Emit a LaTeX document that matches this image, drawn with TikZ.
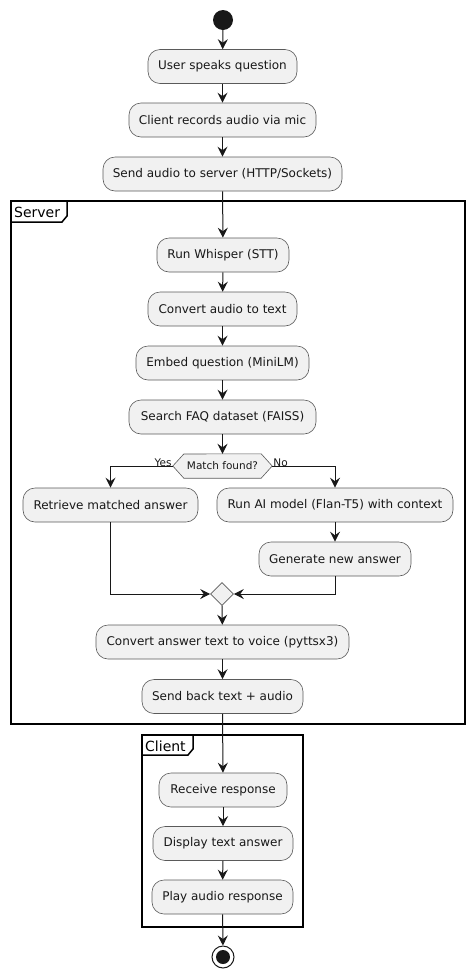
\documentclass[tikz,border=0pt]{standalone}
\usepackage{fontspec}
\setmainfont{DejaVu Sans}
\usetikzlibrary{arrows.meta,shapes.geometric}
\definecolor{boxfill}{HTML}{F1F1F1}
\definecolor{ink}{HTML}{181818}
\definecolor{edge}{HTML}{5A5A5A}
\tikzset{
  act/.style={draw=edge,fill=boxfill,rounded corners=12pt,line width=0.6pt,inner sep=0pt,minimum height=34pt,font=\fontsize{12}{14}\selectfont,text=ink},
  flow/.style={draw=ink,line width=1pt,-{Stealth[length=10pt,width=10pt,inset=3.5pt]}},
  frm/.style={draw=black,line width=1.5pt},
  frlabel/.style={font=\fontsize{14}{16}\selectfont,anchor=base west,inner sep=0pt,text=black},
  small/.style={font=\fontsize{10.5}{12}\selectfont,text=ink,inner sep=0pt}
}
\begin{document}
\begin{tikzpicture}[x=1pt,y=-1pt]
\useasboundingbox (0,0) rectangle (475,978);
% frames
\draw[frm] (11,201) rectangle (465,724);
\draw[frm] (11,222) -- (62,222) -- (67,216) -- (67,201);
\node[frlabel] (srvlbl) at (14,217) {Server};
\draw[frm] (142,735) rectangle (303,927);
\draw[frm] (142,755) -- (188,755) -- (193,749) -- (193,735);
\node[frlabel] (clilbl) at (145,751) {Client};
% start
\node[circle,fill=ink,minimum size=20pt,inner sep=0pt] (start) at (223,20) {};
% actions
\node[act,minimum width=149pt] (user) at (222.5,66.5) {User speaks question};
\node[act,minimum width=187pt] (client) at (222.5,120) {Client records audio via mic};
\node[act,minimum width=239pt] (send) at (222.5,174) {Send audio to server (HTTP/Sockets)};
\node[act,minimum width=132pt] (whisper) at (223,255) {Run Whisper (STT)};
\node[act,minimum width=149pt] (conv) at (222.5,309) {Convert audio to text};
\node[act,minimum width=173pt] (embed) at (222.5,363) {Embed question (MiniLM)};
\node[act,minimum width=187pt] (search) at (222.5,417) {Search FAQ dataset (FAISS)};
% decision
\node[small,minimum width=99pt,minimum height=24pt] (dec) at (222.5,466) {Match found?};
\draw[draw=edge,fill=boxfill,line width=0.6pt] (dec.west) -- ++(11,-12) -- ([xshift=-11pt]dec.north east) -- (dec.east) -- ([xshift=-11pt]dec.south east) -- ([xshift=11pt]dec.south west) -- cycle;
\node[small] at (dec) {Match found?};
\node[small,anchor=south east] (yes) at ([xshift=-1pt,yshift=-1pt]dec.west) {Yes};
\node[small,anchor=south west] (no) at ([xshift=1pt,yshift=-1pt]dec.east) {No};
\node[act,minimum width=175pt] (retr) at (110.5,505) {Retrieve matched answer};
\node[act,minimum width=236pt] (runai) at (335,505) {Run AI model (Flan-T5) with context};
\node[act,minimum width=152pt] (gen) at (335,559) {Generate new answer};
\node[diamond,draw=edge,fill=boxfill,line width=0.6pt,minimum width=23pt,minimum height=23pt,inner sep=0pt] (merge) at (222,594) {};
\node[act,minimum width=253pt] (voice) at (222.5,642) {Convert answer text to voice (pyttsx3)};
\node[act,minimum width=161pt] (back) at (222.5,696.5) {Send back text + audio};
\node[act,minimum width=128pt] (recv) at (223,790) {Receive response};
\node[act,minimum width=140pt] (disp) at (223,843.5) {Display text answer};
\node[act,minimum width=141pt] (play) at (222.5,897) {Play audio response};
% end
\node[circle,draw=ink,line width=1pt,fill=white,minimum size=22pt,inner sep=0pt] (stop) at (223,957) {};
\node[circle,fill=ink,minimum size=14pt,inner sep=0pt] (stopin) at (stop) {};
% flows
\draw[flow] (start) -- (user);
\draw[flow] (user) -- (client);
\draw[flow] (client) -- (send);
\draw[flow] (send) -- (whisper);
\draw[flow] (whisper) -- (conv);
\draw[flow] (conv) -- (embed);
\draw[flow] (embed) -- (search);
\draw[flow] (search.south) -- (dec.north);
\draw[flow] (dec.west) -| (retr.north);
\draw[flow] (dec.east) -| (runai.north);
\draw[flow] (runai) -- (gen);
\draw[flow] (retr.south) |- (merge.west);
\draw[flow] (gen.south) |- (merge.east);
\draw[flow] (merge) -- (voice);
\draw[flow] (voice) -- (back);
\draw[flow] (back) -- (recv);
\draw[flow] (recv) -- (disp);
\draw[flow] (disp) -- (play);
\draw[flow] (play) -- (stop);
\end{tikzpicture}
\end{document}
